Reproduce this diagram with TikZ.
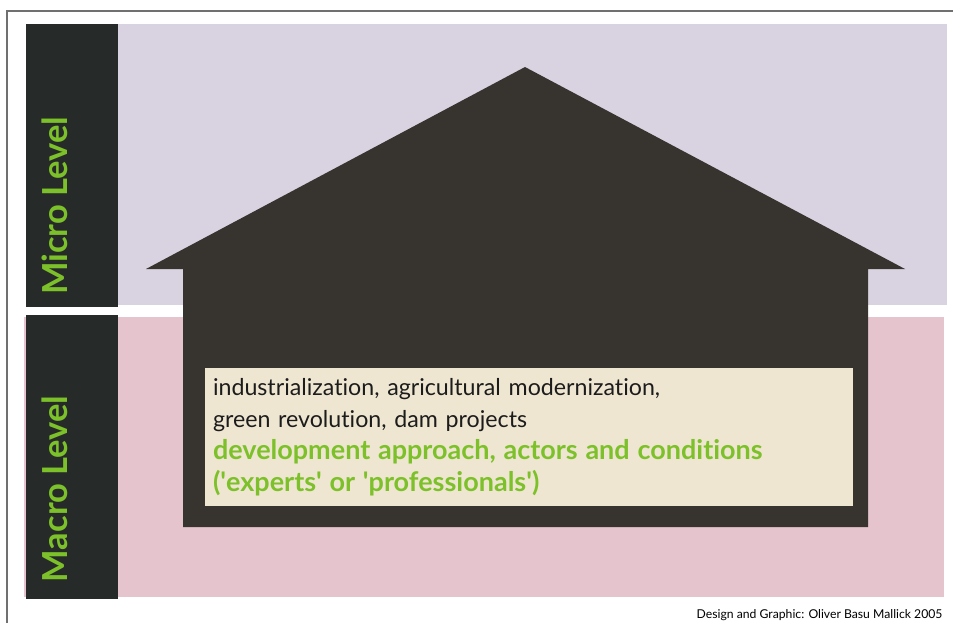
\documentclass[tikz,border=0pt]{standalone}
\usepackage{fontspec}
\setmainfont{Lato}[Ligatures = NoCommon]
\definecolor{microbg}{HTML}{D9D2E0}
\definecolor{macrobg}{HTML}{E6C4CD}
\definecolor{barcol}{HTML}{262B2A}
\definecolor{housecol}{HTML}{37332F}
\definecolor{boxcol}{HTML}{EFE6D2}
\definecolor{textcol}{HTML}{1C1C1C}
\definecolor{levelgreen}{HTML}{7DC12A}
\definecolor{framecol}{HTML}{707070}

\begin{document}
\begin{tikzpicture}[x = 1pt, y = -1pt,
    level/.style = {rotate = 90, text = levelgreen, font = \bfseries\fontsize{34.5}{34.5}\selectfont},
    factbox/.style = {fill = boxcol, text = textcol, minimum width = 648pt, minimum height = 138pt,
      text width = 632pt, inner sep = 8pt, align = left, font = \fontsize{23.2}{32}\selectfont}]
    \useasboundingbox (0,0) rectangle (953,623);
    % frame
    \draw[framecol, line width = 2pt] (7,623) -- (7,11) -- (953,11);
    % levels
    \fill[microbg] (26,24) rectangle (947,305);
    \fill[macrobg] (24,317) rectangle (944,597);
    \fill[barcol] (26,24) rectangle (118,307);
    \fill[barcol] (26,315) rectangle (118,599);
    % house
    \fill[housecol] (525,67) -- (905,269) -- (868,269) -- (868,527) -- (183,527)
      -- (183,269) -- (146,269) -- cycle;
    \node[factbox] (facts) at (529,437) {industrialization, agricultural modernization,\\
      green revolution, dam projects\\
      \textbf{\color{levelgreen}\fontsize{27}{32}\selectfont development approach, actors and conditions}\\
      \textbf{\color{levelgreen}\fontsize{27}{32}\selectfont (\textquotesingle experts\textquotesingle{} or \textquotesingle professionals\textquotesingle)}};
    % Labels
    \node[level] (micro) at (55,206) {Micro Level};
    \node[level] (macro) at (55,489) {Macro Level};
    \node[anchor = base east, font = \fontsize{12.2}{13}\selectfont] (credit) at (946,618) {Design and Graphic: Oliver Basu Mallick 2005};
\end{tikzpicture}
\end{document}
